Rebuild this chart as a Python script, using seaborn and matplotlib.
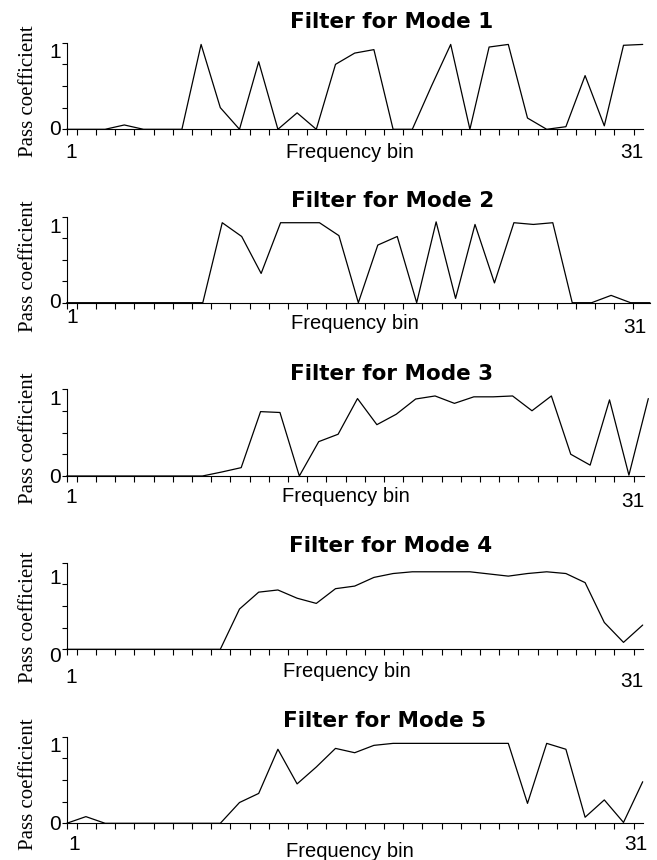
import numpy as np
import pandas as pd
import matplotlib
matplotlib.use("Agg")
import matplotlib.pyplot as plt
import seaborn as sns

# ---------------- data ----------------
bins = list(range(1, 32))
mode1 = [0, 0, 0, 0.05, 0, 0, 0, 0.98, 0.25, 0, 0.78, 0, 0.19, 0, 0.75, 0.88,
         0.92, 0, 0, 0.5, 0.98, 0, 0.95, 0.98, 0.13, 0, 0.03, 0.62, 0.04, 0.97, 0.98]
mode2 = [0, 0, 0, 0, 0, 0, 0, 0, 0.93, 0.77, 0.34, 0.93, 0.93, 0.93, 0.78, 0,
         0.67, 0.77, 0, 0.94, 0.05, 0.91, 0.23, 0.93, 0.91, 0.93, 0, 0, 0.085, 0, 0]
mode3 = [0, 0, 0, 0, 0, 0, 0, 0, 0.046, 0.096, 0.74, 0.73, 0, 0.395, 0.48, 0.89,
         0.59, 0.71, 0.885, 0.92, 0.835, 0.91, 0.91, 0.92, 0.75, 0.92, 0.25, 0.125,
         0.875, 0.01, 0.89]
mode4 = [0, 0, 0, 0, 0, 0, 0, 0, 0, 0.465, 0.66, 0.685, 0.59, 0.53, 0.70, 0.73,
         0.83, 0.875, 0.895, 0.895, 0.895, 0.895, 0.87, 0.845, 0.875, 0.895, 0.875,
         0.77, 0.31, 0.08, 0.28]
mode5 = [0, 0.077, 0, 0, 0, 0, 0, 0, 0, 0.24, 0.345, 0.855, 0.455, 0.65, 0.865,
         0.815, 0.90, 0.923, 0.923, 0.923, 0.923, 0.923, 0.923, 0.923, 0.23, 0.923,
         0.855, 0.07, 0.27, 0.01, 0.48]
modes = [mode1, mode2, mode3, mode4, mode5]
titles = ["Filter for Mode 1", "Filter for Mode 2", "Filter for Mode 3",
          "Filter for Mode 4", "Filter for Mode 5"]
x_tick_labels = ["1", "31"]
y_tick_labels = ["0", "1"]
x_label = "Frequency bin"
y_label = "Pass coefficient"

# ---------------- style ----------------
sns.set_theme(style="ticks")
plt.rcParams["font.family"] = ["Liberation Sans", "DejaVu Sans"]

W, H = 657, 860
fig = plt.figure(figsize=(W / 100, H / 100), dpi=100)
fig.patch.set_facecolor("white")

# layout (pixels, origin top-left)
ax_left = 66.7
ax_top = [42.7, 216.7, 389.0, 562.7, 736.7]
ax_bot = [129.3, 302.7, 476.0, 649.3, 823.3]
data_right = [642.7, 650.0, 648.3, 642.7, 642.7]
spine_right = [643.0, 650.0, 644.0, 643.0, 643.0]
tick_px = 76.7 + 19.2 * np.arange(30)
title_x = [392, 392.5, 392, 390.8, 384.7]
title_base = [28.3, 206.7, 380.0, 551.7, 726.7]
ylab_base_x = 33
ylab_cy = [91, 265.8, 438.3, 617.5, 784]
ytl_right = 61
ytl_zero_base = [135, 308.3, 483.3, 661.7, 830]
ytl_one_base = [58.3, 233.3, 405, 584.2, 751.7]
xtl_first_x = [71, 71.7, 71, 71, 74]
xtl_first_base = [158.3, 323.3, 503.3, 683.3, 850]
xtl_last_x = [632, 635, 633.3, 631.7, 636]
xtl_last_base = [158.3, 333.3, 506.7, 686.7, 850]
xlab_x = [350, 355, 346, 346.7, 349.7]
xlab_base = [158.3, 329.3, 501.7, 676.7, 856.7]


def ftext(x, y, s, **kw):
    return fig.text(x / W, 1 - y / H, s, **kw)


for i in range(5):
    l = ax_left / W
    b = 1 - ax_bot[i] / H
    w = (data_right[i] - ax_left) / W
    h = (ax_bot[i] - ax_top[i]) / H
    ax = fig.add_axes([l, b, w, h])
    ax.set_facecolor("none")
    df = pd.DataFrame({"bin": bins, "coef": modes[i]})
    sns.lineplot(data=df, x="bin", y="coef", ax=ax, color="black",
                 linewidth=0.9, clip_on=False)
    ax.set_xlim(1, 31)
    ax.set_ylim(0, 1)
    scale = 30.0 / (data_right[i] - ax_left)
    ax.set_xticks([1] + list(1 + (tick_px - ax_left) * scale))
    ax.set_xticklabels([])
    ax.set_yticks([0, 0.25, 0.5, 0.75, 1.0])
    ax.set_yticklabels([])
    ax.tick_params(axis="x", direction="out", length=4, width=0.8, color="black")
    ax.tick_params(axis="y", direction="out", length=3.6, width=0.8, color="black")
    for s in ["top", "right"]:
        ax.spines[s].set_visible(False)
    for s in ["left", "bottom"]:
        ax.spines[s].set_color("black")
        ax.spines[s].set_linewidth(0.8)
    ax.spines["bottom"].set_bounds(1, 1 + (spine_right[i] - ax_left) * scale)
    ax.set_xlabel("")
    ax.set_ylabel("")

    ftext(title_x[i], title_base[i], titles[i], ha="center", va="baseline",
          fontsize=15.5, fontweight="bold", family=["DejaVu Sans"], color="black")
    ftext(ylab_base_x, ylab_cy[i], y_label, rotation=90, rotation_mode="anchor",
          ha="center", va="baseline", fontsize=15, family=["Liberation Serif"],
          color="black")
    ftext(ytl_right, ytl_zero_base[i], y_tick_labels[0], ha="right",
          va="baseline", fontsize=15, color="black")
    ftext(ytl_right, ytl_one_base[i], y_tick_labels[1], ha="right",
          va="baseline", fontsize=15, color="black")
    ftext(xtl_first_x[i], xtl_first_base[i], x_tick_labels[0], ha="center",
          va="baseline", fontsize=15, color="black")
    ftext(xtl_last_x[i], xtl_last_base[i], x_tick_labels[1], ha="center",
          va="baseline", fontsize=15, color="black")
    ftext(xlab_x[i], xlab_base[i], x_label, ha="center", va="baseline",
          fontsize=14.5, color="black")

fig.savefig("out.png", dpi=100, facecolor="white")
